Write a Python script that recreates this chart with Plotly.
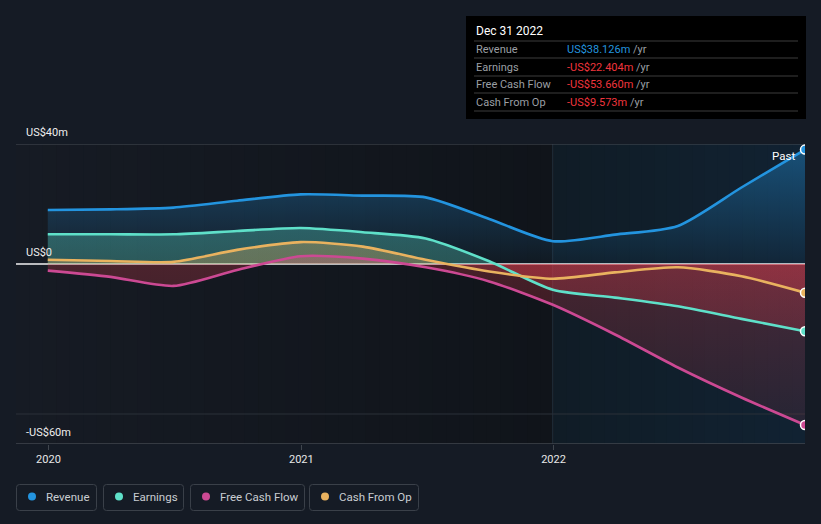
import plotly.graph_objects as go

# ---------------- data (US$ millions, trailing twelve months) ----------------
dates = ['2019-12-31', '2020-03-31', '2020-06-30', '2020-09-30', '2020-12-31',
         '2021-03-31', '2021-06-30', '2021-09-30', '2021-12-31',
         '2022-03-31', '2022-06-30', '2022-09-30', '2022-12-31']
revenue = [18.0, 18.2, 18.8, 21.1, 23.2, 22.8, 22.2, 15.0, 7.6, 9.8, 12.7, 25.5, 38.126]
earnings = [9.9, 9.9, 9.9, 11.0, 12.0, 10.6, 8.5, 0.9, -8.6, -11.2, -14.1, -18.3, -22.404]
free_cash_flow = [-2.2, -4.3, -7.3, -2.0, 2.6, 1.8, -1.1, -5.8, -13.6, -23.5, -34.5, -44.5, -53.66]
cash_from_op = [1.4, 1.0, 0.7, 4.7, 7.3, 5.8, 1.4, -2.5, -4.9, -2.8, -1.1, -4.1, -9.573]

series_names = ['Revenue', 'Earnings', 'Free Cash Flow', 'Cash From Op']
series_values = [revenue, earnings, free_cash_flow, cash_from_op]
series_colors = ['#2394df', '#5fe0c9', '#cc4993', '#e9b25f']
series_rgb = [(35, 148, 223), (95, 224, 201), (204, 73, 147), (233, 178, 95)]

tooltip_title = 'Dec 31 2022'
tooltip_values = ['US$38.126m', '-US$22.404m', '-US$53.660m', '-US$9.573m']
ytick_vals = [40, 0, -60]
ytick_text = ['US$40m', 'US$0', '-US$60m']
xtick_vals = ['2020-01-01', '2021-01-01', '2022-01-01']
xtick_text = ['2020', '2021', '2022']
Y_MIN, Y_MAX = -60, 40
X_MIN, X_MAX = '2019-11-15', '2022-12-31'
PAST_START = '2021-12-31'

# ---------------- geometry helpers ----------------
W, H = 821, 524
ML, MR, MT, MB = 16, 16, 144, 80
PW, PH = W - ML - MR, H - MT - MB
FONT = 'Roboto, sans-serif'
SMOOTH = 0.7


def px(x):
    return (x - ML) / PW


def py(y):
    return (H - MB - y) / PH


def lerp_color(c0, c1, t):
    return 'rgb(%d,%d,%d)' % tuple(round(a + (b - a) * t) for a, b in zip(c0, c1))


fig = go.Figure()

# ---------------- fills (gradient) ----------------
zero_pos = (0 - Y_MIN) / (Y_MAX - Y_MIN)
red = (215, 60, 75)
pos_alpha = [None, 0.30, 0.30, 0.30]
for i, (name, vals, rgb) in enumerate(zip(series_names, series_values, series_rgb)):
    if i == 0:
        cs = [[0, 'rgba(%d,%d,%d,0.04)' % rgb], [zero_pos, 'rgba(%d,%d,%d,0.04)' % rgb],
              [1, 'rgba(%d,%d,%d,0.42)' % rgb]]
    else:
        cs = [[0, 'rgba(%d,%d,%d,0.09)' % red], [zero_pos, 'rgba(%d,%d,%d,0.28)' % red],
              [zero_pos + 0.0001, 'rgba(%d,%d,%d,%.2f)' % (rgb + (pos_alpha[i],))],
              [1, 'rgba(%d,%d,%d,%.2f)' % (rgb + (pos_alpha[i],))]]
    fig.add_trace(go.Scatter(
        x=dates, y=vals, mode='lines',
        line=dict(width=0, shape='spline', smoothing=SMOOTH),
        fill='tozeroy',
        fillgradient=dict(type='vertical', colorscale=cs, start=Y_MIN, stop=Y_MAX),
        hoverinfo='skip', showlegend=False))

# ---------------- lines ----------------
for name, vals, col in zip(series_names, series_values, series_colors):
    fig.add_trace(go.Scatter(
        x=dates, y=vals, mode='lines', name=name,
        line=dict(color=col, width=2.6, shape='spline', smoothing=SMOOTH),
        hoverinfo='skip', showlegend=False))

# end markers
for name, vals, col in zip(series_names, series_values, series_colors):
    fig.add_trace(go.Scatter(
        x=[dates[-1]], y=[vals[-1]], mode='markers',
        marker=dict(size=9, color=col, line=dict(color='white', width=1.5)),
        hoverinfo='skip', showlegend=False))

# ---------------- background shapes ----------------
shapes = []
n = 40
x_past = 554
for k in range(n):
    x0 = ML + (x_past - ML) * k / n
    x1 = ML + (x_past - ML) * (k + 1) / n + 0.6
    shapes.append(dict(type='rect', xref='paper', yref='paper', x0=px(x0), x1=px(x1), y0=0, y1=1,
                       fillcolor=lerp_color((22, 27, 36), (16, 20, 26), k / (n - 1)),
                       line=dict(width=0), layer='below'))
for k in range(20):
    x0 = x_past + (W - MR - x_past) * k / 20
    x1 = x_past + (W - MR - x_past) * (k + 1) / 20 + 0.6
    shapes.append(dict(type='rect', xref='paper', yref='paper', x0=px(x0), x1=min(px(x1), 1), y0=0, y1=1,
                       fillcolor=lerp_color((16, 28, 38), (17, 34, 50), k / 19),
                       line=dict(width=0), layer='below'))
shapes.append(dict(type='line', xref='x', yref='paper', x0=PAST_START, x1=PAST_START, y0=0, y1=1,
                   line=dict(color='rgba(60,90,115,0.45)', width=1), layer='below'))
shapes.append(dict(type='line', xref='paper', yref='y', x0=0, x1=1, y0=40, y1=40,
                   line=dict(color='#474c54', width=1), layer='below'))
shapes.append(dict(type='line', xref='paper', yref='y', x0=0, x1=1, y0=-50, y1=-50,
                   line=dict(color='#2a3038', width=1), layer='below'))
shapes.append(dict(type='line', xref='paper', yref='y', x0=0, x1=1, y0=-60, y1=-60,
                   line=dict(color='#40464e', width=1.5), layer='below'))
shapes.append(dict(type='line', xref='paper', yref='y', x0=0, x1=1, y0=0, y1=0,
                   line=dict(color='#f2f2f2', width=1.3), layer='below'))

# tooltip box
shapes.append(dict(type='rect', xref='paper', yref='paper', x0=px(466), x1=px(806), y0=py(119), y1=py(16),
                   fillcolor='#000000', line=dict(width=0), layer='above'))
for sy in [41, 58, 76, 93, 111]:
    shapes.append(dict(type='line', xref='paper', yref='paper', x0=px(474), x1=px(798), y0=py(sy), y1=py(sy),
                       line=dict(color='#3c3c3c', width=1), layer='above'))


def round_rect(x0, y0, x1, y1, r):
    pts = [
        'M %f,%f' % (px(x0 + r), py(y0)),
        'L %f,%f' % (px(x1 - r), py(y0)),
        'Q %f,%f %f,%f' % (px(x1), py(y0), px(x1), py(y0 + r)),
        'L %f,%f' % (px(x1), py(y1 - r)),
        'Q %f,%f %f,%f' % (px(x1), py(y1), px(x1 - r), py(y1)),
        'L %f,%f' % (px(x0 + r), py(y1)),
        'Q %f,%f %f,%f' % (px(x0), py(y1), px(x0), py(y1 - r)),
        'L %f,%f' % (px(x0), py(y0 + r)),
        'Q %f,%f %f,%f' % (px(x0), py(y0), px(x0 + r), py(y0)),
        'Z']
    return ' '.join(pts)


legend_boxes = [(16, 97), (103, 184), (190, 305), (309, 419)]
annotations = []
for (bx0, bx1), name, col in zip(legend_boxes, series_names, series_colors):
    shapes.append(dict(type='path', xref='paper', yref='paper', path=round_rect(bx0 + 0.5, 484.5, bx1 - 0.5, 510.5, 3),
                       fillcolor='rgba(0,0,0,0)', line=dict(color='#3a4049', width=1), layer='above'))
    cx, cy = bx0 + 16, 496.5
    shapes.append(dict(type='circle', xref='paper', yref='paper', x0=px(cx - 4), x1=px(cx + 4),
                       y0=py(cy + 4), y1=py(cy - 4), fillcolor=col, line=dict(width=0), layer='above'))
    annotations.append(dict(xref='paper', yref='paper', x=px(bx0 + 28), y=py(cy), text=name,
                            xanchor='left', yanchor='middle', showarrow=False,
                            font=dict(family=FONT, size=11.5, color='#c9cdd2')))

for v, t in zip(ytick_vals, ytick_text):
    annotations.append(dict(xref='paper', yref='y', x=px(24), y=v, yshift=12, text=t,
                            xanchor='left', yanchor='middle', showarrow=False,
                            font=dict(family=FONT, size=11, color='#eeeeee')))

annotations.append(dict(xref='paper', yref='y', x=px(797), y=Y_MAX, yshift=-12, text='Past',
                        xanchor='right', yanchor='middle', showarrow=False,
                        font=dict(family=FONT, size=11.5, color='#ffffff')))

annotations.append(dict(xref='paper', yref='paper', x=px(474), y=py(31), text=tooltip_title,
                        xanchor='left', yanchor='middle', showarrow=False,
                        font=dict(family=FONT, size=12, color='#ffffff')))
row_y = [49, 67, 84, 102]
for i, (name, val, ry) in enumerate(zip(series_names, tooltip_values, row_y)):
    vcol = '#2394df' if i == 0 else '#f0353d'
    annotations.append(dict(xref='paper', yref='paper', x=px(474), y=py(ry), text=name,
                            xanchor='left', yanchor='middle', showarrow=False,
                            font=dict(family=FONT, size=11, color='#9b9fa4')))
    annotations.append(dict(xref='paper', yref='paper', x=px(565), y=py(ry),
                            text="<span style='color:%s'>%s</span> <span style='color:#9b9fa4'>/yr</span>" % (vcol, val),
                            xanchor='left', yanchor='middle', showarrow=False,
                            font=dict(family=FONT, size=11, color='#9b9fa4')))

fig.update_layout(
    width=W, height=H,
    margin=dict(l=ML, r=MR, t=MT, b=MB, pad=0),
    paper_bgcolor='#151b25',
    plot_bgcolor='#10141a',
    showlegend=False,
    shapes=shapes,
    annotations=annotations,
    font=dict(family=FONT),
    xaxis=dict(type='date', range=[X_MIN, X_MAX], showgrid=False, zeroline=False, showline=False,
               tickmode='array', tickvals=xtick_vals, ticktext=xtick_text,
               ticks='outside', ticklen=5, tickcolor='#40464e', tickwidth=1,
               tickfont=dict(family=FONT, size=11, color='#e8e8e8'), fixedrange=True),
    yaxis=dict(range=[Y_MIN, Y_MAX], showgrid=False, zeroline=False, showline=False,
               showticklabels=False, ticks='', fixedrange=True),
)

fig.write_html('out.html', config={'displayModeBar': False})
